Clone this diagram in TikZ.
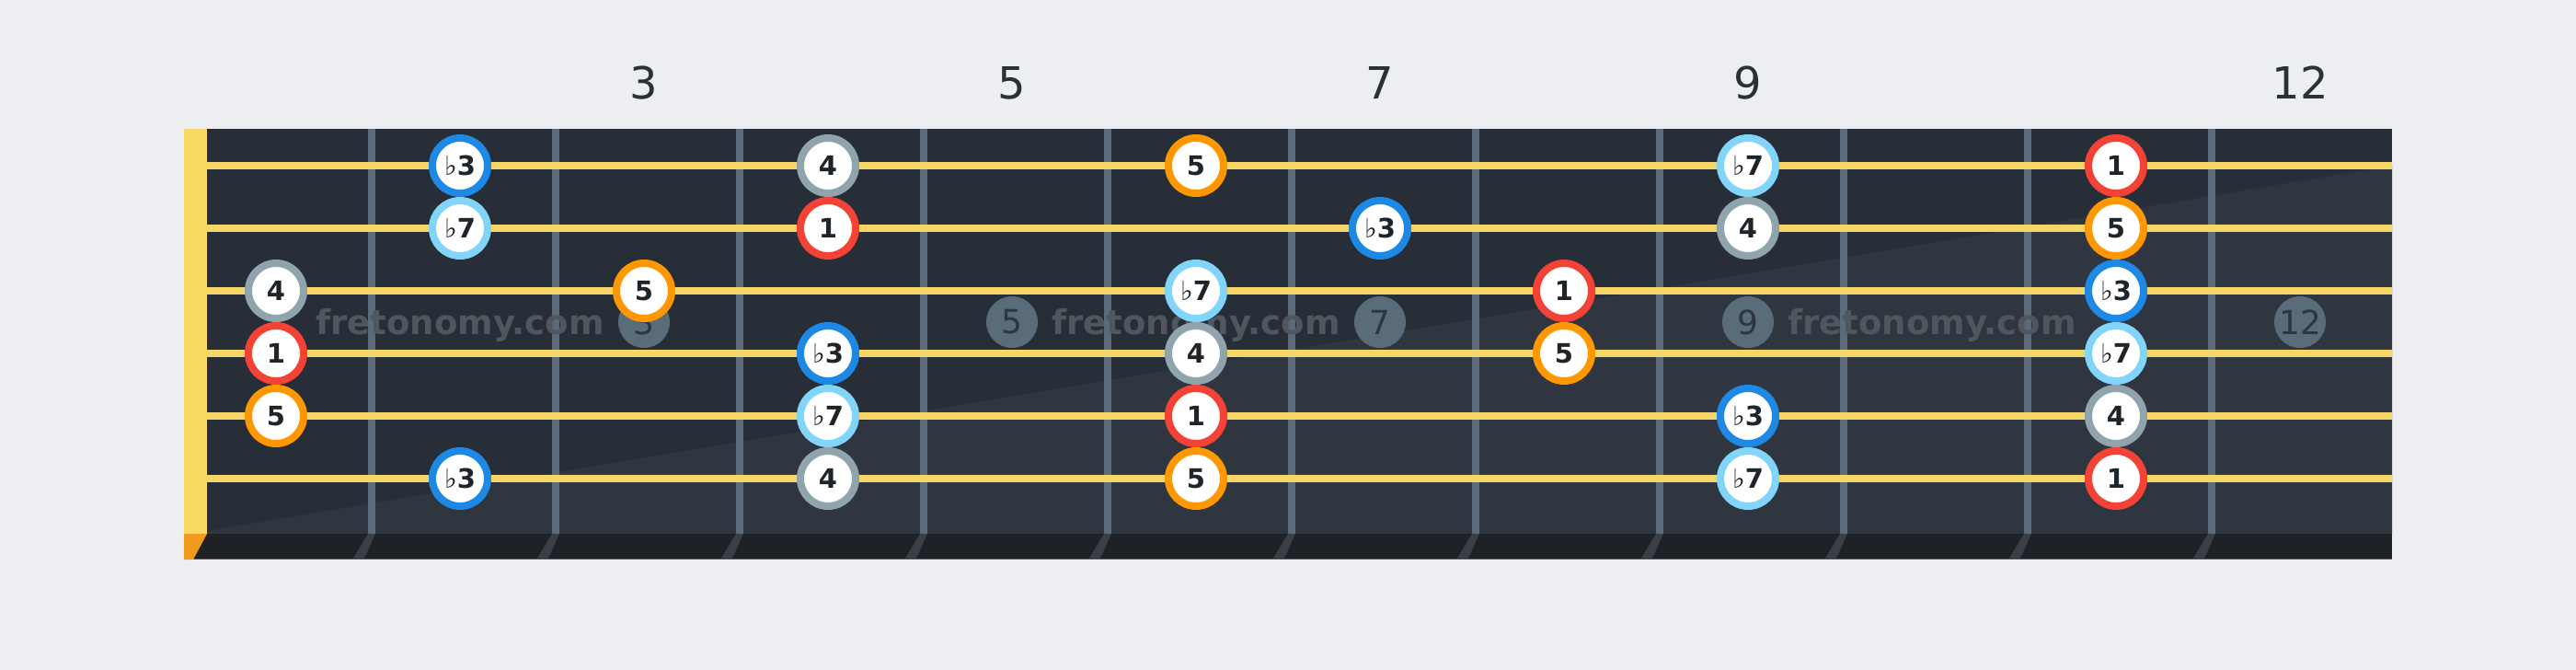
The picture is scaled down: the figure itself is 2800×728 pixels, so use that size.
\documentclass[tikz,border=0pt]{standalone}
\usepackage{fontspec}
\setmainfont{DejaVu Sans}
\definecolor{bgc}{HTML}{EDEEF1}
\definecolor{boardc}{HTML}{282E37}
\definecolor{boardlight}{HTML}{30363F}
\definecolor{stripc}{HTML}{1E2226}
\definecolor{stripedge}{HTML}{5F6770}
\definecolor{slantc}{HTML}{3A3F45}
\definecolor{fretc}{HTML}{5B6B7A}
\definecolor{stringc}{HTML}{F6D667}
\definecolor{nutc}{HTML}{F7D862}
\definecolor{nutbot}{HTML}{F09A1E}
\definecolor{cred}{HTML}{F44336}
\definecolor{corange}{HTML}{FF9800}
\definecolor{cblue}{HTML}{1E88E5}
\definecolor{clblue}{HTML}{81D4FA}
\definecolor{cgray}{HTML}{90A4AE}
\definecolor{labeltext}{HTML}{1F2429}
\definecolor{inlayc}{HTML}{5A6B7A}
\definecolor{inlaytext}{HTML}{2E3740}
\definecolor{numc}{HTML}{2A3038}
\definecolor{wmc}{HTML}{50565E}
\newcommand\fl{{\mdseries ♭}}
\tikzset{
  note/.style={circle, draw=#1, line width=8pt, fill=white, minimum size=60pt,
    inner sep=0pt, font=\fontsize{29}{29}\selectfont, text=labeltext},
  inlay/.style={circle, fill=inlayc, minimum size=56pt, inner sep=0pt,
    font=\fontsize{36}{36}\selectfont, text=inlaytext},
  fretnum/.style={font=\fontsize{48}{48}\selectfont, text=numc},
  wmark/.style={font=\bfseries\fontsize{37}{37}\selectfont, text=wmc, anchor=base, inner sep=0pt},
  stringline/.style={draw=stringc, line width=8pt},
}
\begin{document}
\begin{tikzpicture}[x=1pt,y=-1pt]
\useasboundingbox (0,0) rectangle (2800,728);
\fill[bgc] (0,0) rectangle (2800,728);
% board
\fill[boardc] (200,140) rectangle (2600,580);
\fill[boardlight] (225,577) -- (2600,180) -- (2600,580) -- (225,580) -- cycle;
% bottom strip
\fill[stripc] (200,580) rectangle (2600,608);
\draw[stripedge, line width=1.5pt] (200,607.25) -- (2600,607.25);
\foreach \k in {0,...,10} {
  \fill[slantc] ({400+200*\k},580) -- ({408+200*\k},580) -- ({396+200*\k},606.5) -- ({384+200*\k},606.5) -- cycle;
}
% nut
\fill[nutc] (200,140) rectangle (225,580);
\fill[nutbot] (200,580) -- (225,580) -- (210,608) -- (200,608) -- cycle;
% fret lines
\foreach \k in {0,...,10} {
  \fill[fretc] ({400+200*\k},140) rectangle ({408+200*\k},580);
}
% strings
\foreach \s in {0,...,5} {
  \coordinate (sa\s) at (225,{180+68*\s});
  \coordinate (sb\s) at (2600,{180+68*\s});
  \draw[stringline] (sa\s) -- (sb\s);
}
% watermarks
\node[wmark] (wm1) at (500,363) {fretonomy.com};
\node[wmark] (wm2) at (1300,363) {fretonomy.com};
\node[wmark] (wm3) at (2100,363) {fretonomy.com};
% inlays
\node[inlay] (in3) at (700,350) {3};
\node[inlay] (in5) at (1100,350) {5};
\node[inlay] (in7) at (1500,350) {7};
\node[inlay] (in9) at (1900,350) {9};
\node[inlay] (in12) at (2500,350) {12};
% fret numbers
\node[fretnum] (fn3) at (700,90) {3};
\node[fretnum] (fn5) at (1100,90) {5};
\node[fretnum] (fn7) at (1500,90) {7};
\node[fretnum] (fn9) at (1900,90) {9};
\node[fretnum] (fn12) at (2500,90) {12};
% string 1
\node[note=cblue]   (n1f2)  at (500,180)  {\fl\textbf{3}};
\node[note=cgray]   (n1f4)  at (900,180)  {\textbf{4}};
\node[note=corange] (n1f6)  at (1300,180) {\textbf{5}};
\node[note=clblue]  (n1f9)  at (1900,180) {\fl\textbf{7}};
\node[note=cred]    (n1f11) at (2300,180) {\textbf{1}};
% string 2
\node[note=clblue]  (n2f2)  at (500,248)  {\fl\textbf{7}};
\node[note=cred]    (n2f4)  at (900,248)  {\textbf{1}};
\node[note=cblue]   (n2f7)  at (1500,248) {\fl\textbf{3}};
\node[note=cgray]   (n2f9)  at (1900,248) {\textbf{4}};
\node[note=corange] (n2f11) at (2300,248) {\textbf{5}};
% string 3
\node[note=cgray]   (n3f1)  at (300,316)  {\textbf{4}};
\node[note=corange] (n3f3)  at (700,316)  {\textbf{5}};
\node[note=clblue]  (n3f6)  at (1300,316) {\fl\textbf{7}};
\node[note=cred]    (n3f8)  at (1700,316) {\textbf{1}};
\node[note=cblue]   (n3f11) at (2300,316) {\fl\textbf{3}};
% string 4
\node[note=cred]    (n4f1)  at (300,384)  {\textbf{1}};
\node[note=cblue]   (n4f4)  at (900,384)  {\fl\textbf{3}};
\node[note=cgray]   (n4f6)  at (1300,384) {\textbf{4}};
\node[note=corange] (n4f8)  at (1700,384) {\textbf{5}};
\node[note=clblue]  (n4f11) at (2300,384) {\fl\textbf{7}};
% string 5
\node[note=corange] (n5f1)  at (300,452)  {\textbf{5}};
\node[note=clblue]  (n5f4)  at (900,452)  {\fl\textbf{7}};
\node[note=cred]    (n5f6)  at (1300,452) {\textbf{1}};
\node[note=cblue]   (n5f9)  at (1900,452) {\fl\textbf{3}};
\node[note=cgray]   (n5f11) at (2300,452) {\textbf{4}};
% string 6
\node[note=cblue]   (n6f2)  at (500,520)  {\fl\textbf{3}};
\node[note=cgray]   (n6f4)  at (900,520)  {\textbf{4}};
\node[note=corange] (n6f6)  at (1300,520) {\textbf{5}};
\node[note=clblue]  (n6f9)  at (1900,520) {\fl\textbf{7}};
\node[note=cred]    (n6f11) at (2300,520) {\textbf{1}};
\end{tikzpicture}
\end{document}
